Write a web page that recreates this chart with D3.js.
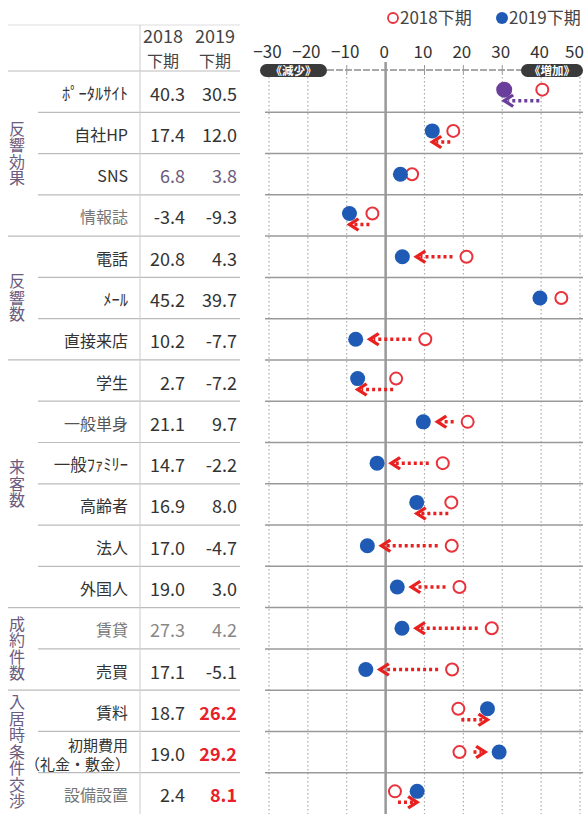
<!DOCTYPE html>
<html>
<head>
<meta charset="utf-8">
<script src="https://cdn.jsdelivr.net/npm/d3@7"></script>
<style>
  body { margin: 0; background: #fff; }
  svg { display: block; font-family: "Noto Sans CJK JP", "Noto Sans", sans-serif; }
</style>
</head>
<body>
<svg id="chart" width="587" height="814"></svg>
<script>
// data
const categories = ["ﾎﾟｰﾀﾙｻｲﾄ", "自社HP", "SNS", "情報誌", "電話", "ﾒｰﾙ", "直接来店",
  "学生", "一般単身", "一般ﾌｧﾐﾘｰ", "高齢者", "法人", "外国人", "賃貸", "売買",
  "賃料", "初期費用|（礼金・敷金）", "設備設置"];
const v2018 = [40.3, 17.4, 6.8, -3.4, 20.8, 45.2, 10.2, 2.7, 21.1, 14.7, 16.9, 17.0, 19.0, 27.3, 17.1, 18.7, 19.0, 2.4];
const v2019 = [30.5, 12.0, 3.8, -9.3, 4.3, 39.7, -7.7, -7.2, 9.7, -2.2, 8.0, -4.7, 3.0, 4.2, -5.1, 26.2, 29.2, 8.1];
const arrowMode = ["below", "below", "none", "below", "inline", "none", "inline", "below", "inline",
  "inline", "below", "inline", "inline", "inline", "inline", "below", "inline", "below"];
const groupNames = ["反響効果", "反響数", "来客数", "成約件数", "入居時条件交渉"];
const groupSizes = [4, 3, 6, 2, 3];
const highlight2019 = [15, 16, 17];
const tickValues = [-30, -20, -10, 0, 10, 20, 30, 40, 50];
const seriesNames = ["2018下期", "2019下期"];

const RED = "#e8323c", BLUE = "#1f5bb5", PURPLE = "#6a3f9c", TEXT = "#333";

const svg = d3.select("#chart");
svg.append("rect").attr("width", 587).attr("height", 814).attr("fill", "#fff");

const x = d3.scaleLinear().domain([-30, 50]).range([269, 580]);
const y = d3.scaleBand().domain(d3.range(categories.length)).range([71, 814]);
const bw = y.bandwidth();
const cy = i => y(i) + bw / 2;

// group boundaries (row index where a new group starts)
const groupStarts = [];
let acc = 0;
groupSizes.forEach(n => { groupStarts.push(acc); acc += n; });

// ---- left table lines
svg.append("line").attr("x1", 8).attr("x2", 240).attr("y1", 25).attr("y2", 25)
  .attr("stroke", "#ddd").attr("stroke-width", 1);
d3.range(categories.length).forEach(i => {
  const isGroup = groupStarts.includes(i);
  svg.append("line")
    .attr("x1", isGroup ? 8 : 38).attr("x2", 240)
    .attr("y1", y(i)).attr("y2", y(i))
    .attr("stroke", "#bbb").attr("stroke-width", 1.2);
});
svg.append("line").attr("x1", 140).attr("x2", 140).attr("y1", 25).attr("y2", 814)
  .attr("stroke", "#ccc").attr("stroke-width", 1);

// ---- header
[["2018", 163], ["2019", 215]].forEach(([t, cx]) => {
  svg.append("text").attr("x", cx).attr("y", 43).attr("text-anchor", "middle")
    .attr("font-size", 18).attr("fill", "#444").text(t);
  svg.append("text").attr("x", cx).attr("y", 67).attr("text-anchor", "middle")
    .attr("font-size", 16).attr("fill", "#444").text("下期");
});

// ---- group labels (vertical text)
groupNames.forEach((name, k) => {
  const first = groupStarts[k], last = first + groupSizes[k] - 1;
  const mid = (y(first) + y(last) + bw) / 2;
  svg.append("text")
    .attr("x", 17).attr("y", mid)
    .attr("writing-mode", "vertical-rl")
    .attr("text-anchor", "middle")
    .attr("letter-spacing", 0.5)
    .attr("font-size", 16).attr("fill", "#6b5c80")
    .text(name);
});

// ---- category names and values
const nameColor = { 3: "#777", 8: "#555", 13: "#777", 17: "#777" };
const valColor = { 2: "#6b5b7b", 13: "#888" };
categories.forEach((c, i) => {
  const parts = c.split("|");
  if (parts.length > 1) {
    svg.append("text").attr("x", 128).attr("y", cy(i) - 1).attr("text-anchor", "end")
      .attr("font-size", 15).attr("fill", TEXT).text(parts[0]);
    svg.append("text").attr("x", 130).attr("y", cy(i) + 18).attr("text-anchor", "end")
      .attr("font-size", 15).attr("fill", TEXT).text(parts[1]);
  } else {
    svg.append("text").attr("x", 128).attr("y", cy(i) + 8).attr("text-anchor", "end")
      .attr("font-size", /[ｰ-ﾟ]/.test(c) ? 16.5 : 16).attr("fill", nameColor[i] || TEXT).text(c);
  }
  svg.append("text").attr("x", 185).attr("y", cy(i) + 9).attr("text-anchor", "end")
    .attr("font-size", 18).attr("fill", valColor[i] || TEXT).text(v2018[i].toFixed(1));
  const hi = highlight2019.includes(i);
  svg.append("text").attr("x", 237).attr("y", cy(i) + 9).attr("text-anchor", "end")
    .attr("font-size", 18).attr("font-weight", hi ? "bold" : "normal")
    .attr("fill", hi ? "#e8202a" : (valColor[i] || TEXT)).text(v2019[i].toFixed(1));
});

// ---- legend
svg.append("circle").attr("cx", 393).attr("cy", 18).attr("r", 5)
  .attr("fill", "none").attr("stroke", RED).attr("stroke-width", 1.8);
svg.append("text").attr("x", 400).attr("y", 24).attr("font-size", 17).attr("fill", "#444").text(seriesNames[0]);
svg.append("circle").attr("cx", 502).attr("cy", 18).attr("r", 6).attr("fill", BLUE);
svg.append("text").attr("x", 509).attr("y", 24).attr("font-size", 17).attr("fill", "#444").text(seriesNames[1]);

// ---- axis labels
const axis = svg.append("g").attr("transform", "translate(0,58)")
  .call(d3.axisTop(x).tickValues(tickValues).tickSize(0).tickPadding(0));
axis.select(".domain").remove();
axis.selectAll("text").attr("font-size", 17).attr("fill", "#333")
  .attr("font-family", "\"Noto Sans CJK JP\", sans-serif").attr("dy", 0)
  .attr("x", d => d === 50 ? -6 : -2);

// dashed guide line with tick marks, badges
svg.append("line").attr("x1", 327).attr("x2", 522).attr("y1", 70).attr("y2", 70)
  .attr("stroke", "#555").attr("stroke-width", 1.2).attr("stroke-dasharray", "7,2");
tickValues.forEach(t => {
  svg.append("line").attr("x1", x(t)).attr("x2", x(t)).attr("y1", 65).attr("y2", 75)
    .attr("stroke", "#999").attr("stroke-width", 1);
});
[[260, 327, "《減少》"], [521, 583, "《増加》"]].forEach(([a, b, t]) => {
  svg.append("rect").attr("x", a).attr("y", 64).attr("width", b - a).attr("height", 13)
    .attr("rx", 6.5).attr("fill", "#3a3a3a");
  svg.append("text").attr("x", (a + b) / 2).attr("y", 75).attr("text-anchor", "middle")
    .attr("font-size", 11.5).attr("font-weight", "bold").attr("fill", "#fff").text(t);
});

// ---- grid
const grid = svg.append("g");
tickValues.forEach(t => {
  if (t === 0) {
    grid.append("line").attr("x1", x(t)).attr("x2", x(t)).attr("y1", 62).attr("y2", 814)
      .attr("stroke", "#999").attr("stroke-width", 2.5);
  } else {
    grid.append("line").attr("x1", x(t)).attr("x2", x(t)).attr("y1", 77).attr("y2", 814)
      .attr("stroke", "#aaa").attr("stroke-width", 1.2).attr("stroke-dasharray", "1.5,2.5");
  }
});
d3.range(1, categories.length).forEach(i => {
  grid.append("line").attr("x1", 265).attr("x2", 583).attr("y1", y(i)).attr("y2", y(i))
    .attr("stroke", "#999").attr("stroke-width", 1.5);
});

// ---- arrows and markers
function drawArrow(tail, tip, yy, color) {
  const d = Math.sign(tip - tail);
  svg.append("line").attr("x1", tail).attr("x2", tip - d * 7).attr("y1", yy).attr("y2", yy)
    .attr("stroke", color).attr("stroke-width", 3.5).attr("stroke-dasharray", "3,3");
  const p = d3.path();
  p.moveTo(tip, yy);
  p.lineTo(tip - d * 11, yy - 7);
  p.lineTo(tip - d * 13, yy - 4.5);
  p.lineTo(tip - d * 6, yy);
  p.lineTo(tip - d * 13, yy + 4.5);
  p.lineTo(tip - d * 11, yy + 7);
  p.closePath();
  svg.append("path").attr("d", p.toString()).attr("fill", color);
}

categories.forEach((c, i) => {
  const mode = arrowMode[i];
  const x18 = x(v2018[i]), x19 = x(v2019[i]);
  const d = Math.sign(x19 - x18);
  const color = i === 0 ? PURPLE : "#e82020";
  const my = mode === "below" ? cy(i) - 2 : cy(i);
  if (mode === "inline") drawArrow(x18 + d * 14, x19 - d * 11, cy(i), color);
  if (mode === "below") drawArrow(x18 + d * 3, x19 + d * 3, cy(i) + 9, color);
  svg.append("circle").attr("cx", x18).attr("cy", my).attr("r", 6)
    .attr("fill", "#fff").attr("stroke", RED).attr("stroke-width", 2);
  svg.append("circle").attr("cx", x19).attr("cy", my).attr("r", i === 0 ? 8 : 7.5)
    .attr("fill", i === 0 ? PURPLE : BLUE);
});
</script>
</body>
</html>
